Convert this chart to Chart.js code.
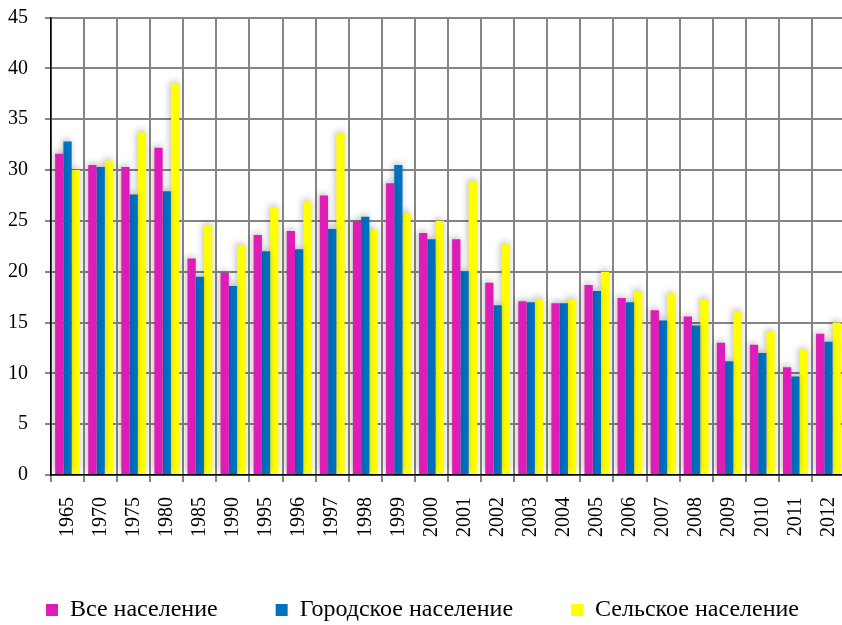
<!DOCTYPE html>
<html>
<head>
<meta charset="utf-8">
<script src="https://cdn.jsdelivr.net/npm/chart.js@4/dist/chart.umd.min.js"></script>
<style>
  html, body { margin: 0; padding: 0; background: #fff; overflow: hidden; }
  #wrap { position: absolute; left: 0; top: 0; width: 846px; height: 632px; }
</style>
</head>
<body>
<div id="wrap"><canvas id="c" width="846" height="632"></canvas></div>
<script>
const categories = ['1965','1970','1975','1980','1985','1990','1995','1996','1997','1998','1999','2000','2001','2002','2003','2004','2005','2006','2007','2008','2009','2010','2011','2012'];
const allPopulation = [31.6, 30.5, 30.3, 32.2, 21.3, 19.9, 23.6, 24.0, 27.5, 24.9, 28.7, 23.8, 23.2, 18.9, 17.1, 16.9, 18.7, 17.4, 16.2, 15.6, 13.0, 12.8, 10.6, 13.9];
const urbanPopulation = [32.8, 30.3, 27.6, 27.9, 19.5, 18.6, 22.0, 22.2, 24.2, 25.4, 30.5, 23.2, 20.0, 16.7, 17.0, 16.9, 18.1, 17.0, 15.2, 14.7, 11.2, 12.0, 9.7, 13.1];
const ruralPopulation = [30.0, 30.9, 33.7, 38.5, 24.6, 22.6, 26.3, 26.9, 33.6, 24.1, 25.8, 25.0, 28.9, 22.7, 17.3, 17.3, 20.0, 18.1, 17.8, 17.3, 16.1, 14.1, 12.3, 15.0];
const seriesNames = ['Все население', 'Городское население', 'Сельское население'];
const yTicks = [0, 5, 10, 15, 20, 25, 30, 35, 40, 45];

const colors = ['#E01CB8', '#0070C0', '#FFFF00'];
const legendGap = '        ';

const barShadow = {
  id: 'barShadow',
  beforeDatasetsDraw(chart) {
    const c = chart.ctx;
    c.save();
    c.shadowColor = 'rgba(0,0,0,0.28)';
    c.shadowBlur = 7;
    c.shadowOffsetX = -1;
    c.shadowOffsetY = -2;
  },
  afterDatasetsDraw(chart) { chart.ctx.restore(); }
};

const serif = 'Liberation Serif, Times New Roman, serif';

new Chart(document.getElementById('c'), {
  type: 'bar',
  data: {
    labels: categories,
    datasets: [
      { label: seriesNames[0], data: allPopulation, backgroundColor: colors[0] },
      { label: seriesNames[1], data: urbanPopulation, backgroundColor: colors[1] },
      { label: seriesNames[2], data: ruralPopulation, backgroundColor: colors[2] }
    ]
  },
  options: {
    responsive: false,
    animation: false,
    devicePixelRatio: 1,
    layout: { padding: { top: 17.5, right: 1, left: 0, bottom: 0 } },
    datasets: { bar: { categoryPercentage: 0.75, barPercentage: 1.0, borderWidth: 0 } },
    plugins: {
      tooltip: { enabled: false },
      legend: {
        position: 'bottom',
        labels: {
          boxWidth: 12,
          boxHeight: 12,
          padding: 10,
          color: '#000',
          font: { family: serif, size: 24 },
          generateLabels(chart) {
            return chart.data.datasets.map((ds, i) => ({
              text: ds.label + (i < chart.data.datasets.length - 1 ? legendGap : ''),
              fillStyle: ds.backgroundColor,
              strokeStyle: ds.backgroundColor,
              lineWidth: 0,
              hidden: false,
              datasetIndex: i,
              fontColor: '#000'
            }));
          }
        }
      }
    },
    scales: {
      x: {
        grid: { color: '#858585', lineWidth: 2, offset: true, tickLength: 7, tickColor: '#858585' },
        border: { color: '#000', width: 1.5 },
        ticks: {
          color: '#000',
          font: { family: serif, size: 20 },
          minRotation: 90, maxRotation: 90,
          padding: 15,
          autoSkip: false
        },
        afterFit(scale) {
          scale.height = 113;
          scale.paddingLeft = 0;
          scale.paddingRight = 0;
        }
      },
      y: {
        min: 0, max: 45,
        grid: { color: '#858585', lineWidth: 2, tickLength: 6, tickColor: '#858585' },
        border: { color: '#000', width: 1.5 },
        afterBuildTicks(scale) { scale.ticks = yTicks.map(v => ({ value: v })); },
        ticks: {
          color: '#000',
          font: { family: serif, size: 20 },
          padding: 17
        },
        afterFit(scale) {
          scale.width = 51;
          scale.paddingTop = 0;
          scale.paddingBottom = 0;
        }
      }
    }
  },
  plugins: [barShadow]
});
</script>
</body>
</html>
